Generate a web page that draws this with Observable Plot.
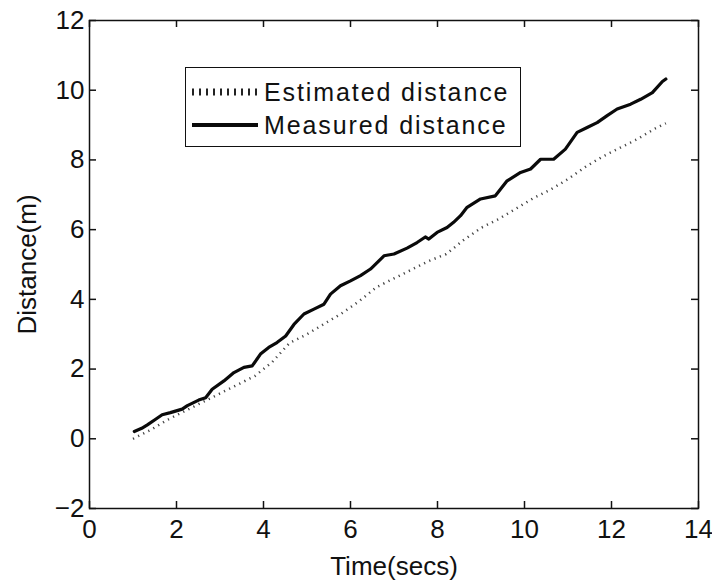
<!DOCTYPE html>
<html>
<head>
<meta charset="utf-8">
<script src="https://cdn.jsdelivr.net/npm/d3@7"></script>
<script src="https://cdn.jsdelivr.net/npm/@observablehq/plot@0.6"></script>
<style>
  html, body { margin: 0; padding: 0; background: #fff; }
  #wrap { position: relative; width: 712px; height: 580px; font-family: "Liberation Sans", Arial, sans-serif; }
  #legend { position: absolute; left: 185px; top: 67px; width: 336px; height: 80px; border: 1.5px solid #111; background: #fff; box-sizing: border-box; }
  .row { position: absolute; left: 6px; height: 32px; display: flex; align-items: center; font-size: 25px; letter-spacing: 1.9px; color: #111; }
  .row svg { margin-right: 6px; }
</style>
</head>
<body>
<div id="wrap"></div>
<script>
// Measured distance (solid black line)
const measuredTime = [1.03,1.2,1.33,1.52,1.67,1.86,2.13,2.25,2.51,2.67,2.82,3.09,3.32,3.55,3.74,3.93,4.12,4.31,4.51,4.70,4.93,5.16,5.39,5.54,5.77,6.0,6.23,6.46,6.77,7.0,7.30,7.53,7.72,7.80,7.99,8.22,8.37,8.53,8.68,8.99,9.33,9.60,9.91,10.14,10.37,10.67,10.94,11.21,11.44,11.67,11.90,12.13,12.44,12.67,12.94,13.17,13.25];
const measuredDist = [0.21,0.3,0.40,0.56,0.69,0.75,0.85,0.95,1.11,1.18,1.42,1.66,1.90,2.05,2.09,2.43,2.62,2.76,2.95,3.28,3.58,3.72,3.86,4.15,4.39,4.53,4.68,4.87,5.25,5.30,5.47,5.63,5.79,5.73,5.92,6.06,6.21,6.40,6.64,6.88,6.97,7.40,7.64,7.74,8.02,8.02,8.31,8.79,8.93,9.07,9.27,9.46,9.60,9.74,9.93,10.25,10.32];

// Estimated distance (dotted line)
const estimatedTime = [1.0,1.4,1.8,2.2,2.6,3.0,3.4,3.8,4.2,4.6,5.0,5.4,5.8,6.2,6.6,7.0,7.4,7.8,8.2,8.6,9.0,9.4,9.8,10.2,10.6,11.0,11.4,11.8,12.2,12.6,13.0,13.25];
const estimatedDist = [0.0,0.25,0.55,0.8,1.05,1.3,1.55,1.8,2.2,2.75,3.0,3.3,3.6,3.95,4.35,4.6,4.85,5.1,5.3,5.7,6.05,6.3,6.6,6.9,7.15,7.45,7.8,8.1,8.35,8.6,8.9,9.05];

const xTicks = [0,2,4,6,8,10,12,14];
const yTicks = [-2,0,2,4,6,8,10,12];
const legendLabels = ["Estimated distance", "Measured distance"];

const measured = measuredTime.map((t, i) => ({t, d: measuredDist[i]}));
const estimated = estimatedTime.map((t, i) => ({t, d: estimatedDist[i]}));

const W = 712, H = 580, ML = 89, MR = 14, MT = 20, MB = 72;
const innerW = W - ML - MR, innerH = H - MT - MB;
const T = 7; // inward tick length

const chart = Plot.plot({
  width: W,
  height: H,
  marginLeft: ML,
  marginRight: MR,
  marginTop: MT,
  marginBottom: MB,
  style: {fontFamily: '"Liberation Sans", Arial, sans-serif', fontSize: "26px", color: "#111", background: "#fff"},
  x: {domain: [0, 14]},
  y: {domain: [-2, 12]},
  marks: [
    Plot.frame({stroke: "#111", strokeWidth: 1.5}),
    Plot.axisX({ticks: xTicks, tickSize: 0, tickPadding: 11, tickFormat: d => String(d), label: "Time(secs)", labelAnchor: "center", labelArrow: "none", labelOffset: 66, fontSize: 26}),
    Plot.axisY({ticks: yTicks, tickSize: 0, tickPadding: 5, tickFormat: d => d < 0 ? "\u2212" + Math.abs(d) : String(d), label: "Distance(m)", labelAnchor: "center", labelArrow: "none", labelOffset: 72, fontSize: 26}),
    // inward ticks on all four sides
    Plot.tickX(xTicks, {x: d => d, insetTop: innerH - T, stroke: "#111", strokeWidth: 1.5}),
    Plot.tickX(xTicks, {x: d => d, insetBottom: innerH - T, stroke: "#111", strokeWidth: 1.5}),
    Plot.tickY(yTicks, {y: d => d, insetRight: innerW - T, stroke: "#111", strokeWidth: 1.5}),
    Plot.tickY(yTicks, {y: d => d, insetLeft: innerW - T, stroke: "#111", strokeWidth: 1.5}),
    Plot.line(estimated, {x: "t", y: "d", stroke: "#444", strokeWidth: 2.5, strokeDasharray: "1.2,4.5", strokeLinecap: "butt"}),
    Plot.line(measured, {x: "t", y: "d", stroke: "#0a0a0a", strokeWidth: 3.2, strokeLinejoin: "round"})
  ]
});

const wrap = document.getElementById("wrap");
wrap.appendChild(chart);

const legend = document.createElement("div");
legend.id = "legend";
legend.innerHTML = `
  <div class="row" style="top:8px"><svg width="66" height="10"><line x1="0" y1="5" x2="66" y2="5" stroke="#222" stroke-width="7" stroke-dasharray="2,5"/></svg><span>${legendLabels[0]}</span></div>
  <div class="row" style="top:41px"><svg width="66" height="10"><line x1="0" y1="5" x2="66" y2="5" stroke="#0a0a0a" stroke-width="4"/></svg><span>${legendLabels[1]}</span></div>`;
wrap.appendChild(legend);
</script>
</body>
</html>
